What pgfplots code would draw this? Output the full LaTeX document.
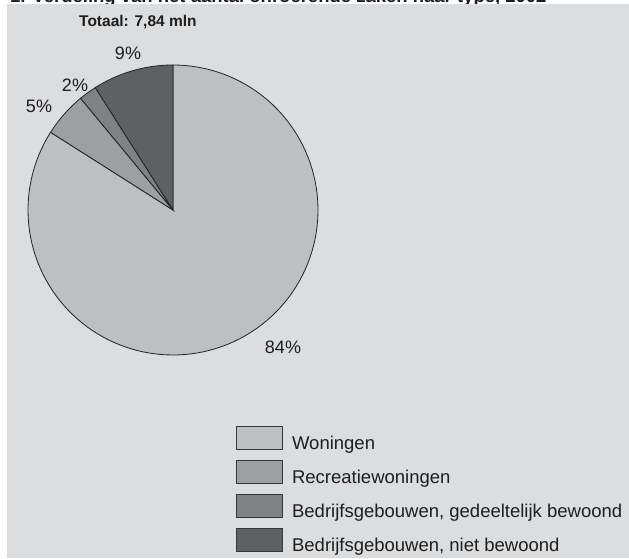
\documentclass[border=0pt]{standalone}
\usepackage{pgfplots}
\usepackage{pgfplotstable}
\pgfplotsset{compat=1.18}
\usepackage{fontspec}
\setmainfont{Liberation Sans}

\definecolor{panel}{RGB}{220,221,223}
\definecolor{cWon}{RGB}{190,191,193}
\definecolor{cRec}{RGB}{157,159,161}
\definecolor{cGed}{RGB}{128,129,131}
\definecolor{cNiet}{RGB}{95,96,98}
\definecolor{outl}{RGB}{35,35,35}
\definecolor{boxc}{RGB}{55,55,55}
\definecolor{txt}{RGB}{30,30,30}

\tikzset{lab/.style={anchor=base, inner sep=0pt, text=txt, font=\fontsize{18}{20}\selectfont}}

% share of each type, percent
\pgfplotstableread{
type value
Woningen 84
Recreatiewoningen 5
Gedeeltelijk 2
Niet 9
}\piedata
\pgfplotstablegetelem{0}{value}\of\piedata\let\vA\pgfplotsretval
\pgfplotstablegetelem{1}{value}\of\piedata\let\vB\pgfplotsretval
\pgfplotstablegetelem{2}{value}\of\piedata\let\vC\pgfplotsretval
\pgfplotstablegetelem{3}{value}\of\piedata\let\vD\pgfplotsretval
% slices run clockwise from the top
\pgfmathsetmacro\aA{90}
\pgfmathsetmacro\aB{\aA-3.6*\vA}
\pgfmathsetmacro\aC{\aB-3.6*\vB}
\pgfmathsetmacro\aD{\aC-3.6*\vC}
\pgfmathsetmacro\aE{\aD-3.6*\vD}

\begin{document}
\begin{tikzpicture}
\node[anchor=base west, inner sep=0pt, text=txt,
      font=\fontsize{18.5}{20}\selectfont\bfseries] at (10pt,555pt)
  {1. Verdeling van het aantal onroerende zaken naar type, 2002};
\fill[panel] (7pt,0pt) rectangle (629pt,554pt);
\begin{axis}[
  at={(0pt,0pt)}, anchor=origin,
  scale only axis, width=629pt, height=558pt,
  xmin=0, xmax=629, ymin=0, ymax=558,
  hide axis, clip=false,
  every axis plot/.append style={draw=outl, line width=0.8pt, samples=120},
  legend image code/.code={\draw[#1, draw=boxc, line width=0.9pt] (0pt,0pt) rectangle (46pt,23pt);},
  legend style={at={(axis cs:236,132)}, anchor=north west,
    draw=none, fill=none, inner sep=0pt, row sep=10pt, column sep=9pt,
    font=\fontsize{18.5}{20}\selectfont, text=txt,
    nodes={inner sep=0pt, text depth=0pt, anchor=base west}},
]
\addplot[fill=cWon, domain=\aB:\aA] ({173+145*cos(x)},{348+145*sin(x)}) -- (axis cs:173,348) -- cycle;
\addlegendentry{Woningen}
\addplot[fill=cRec, domain=\aC:\aB] ({173+145*cos(x)},{348+145*sin(x)}) -- (axis cs:173,348) -- cycle;
\addlegendentry{Recreatiewoningen}
\addplot[fill=cGed, domain=\aD:\aC] ({173+145*cos(x)},{348+145*sin(x)}) -- (axis cs:173,348) -- cycle;
\addlegendentry{Bedrijfsgebouwen, gedeeltelijk bewoond}
\addplot[fill=cNiet, domain=\aE:\aD] ({173+145*cos(x)},{348+145*sin(x)}) -- (axis cs:173,348) -- cycle;
\addlegendentry{Bedrijfsgebouwen, niet bewoond}

\node[lab] at (axis cs:128,498) {\vD\%};
\node[lab] at (axis cs:75,466) {\vC\%};
\node[lab] at (axis cs:39,445) {\vB\%};
\node[lab] at (axis cs:283,205) {\vA\%};
\node[anchor=base west, inner sep=0pt, text=txt, font=\fontsize{15.5}{17}\selectfont\bfseries]
  at (axis cs:79,531) {Totaal: 7,84 mln};
\end{axis}
\pgfresetboundingbox
\path[use as bounding box] (0pt,0pt) rectangle (629pt,558pt);
\end{tikzpicture}
\end{document}
